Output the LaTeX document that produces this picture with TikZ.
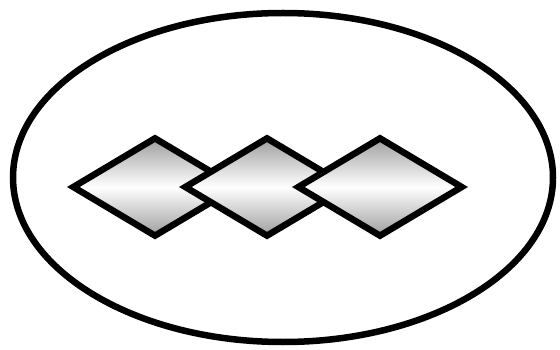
\documentclass[tikz,border=0pt]{standalone}
\usepackage{xcolor}
\usepackage{tikz}
\usetikzlibrary{shapes.geometric}

\tikzset{gem/.style={diamond, draw, line width=6.5pt, inner sep=0pt,
    minimum width=166pt, minimum height=100pt,
    top color=black!38, bottom color=black!38, middle color=white}}

\begin{document}
\begin{tikzpicture}[x=1pt,y=-1pt]
  \useasboundingbox (0,0) rectangle (560,350);
  \draw[line width=6.5pt] (283,177.5) ellipse [x radius=270pt, y radius=164.5pt];
  \node[gem] (gemA) at (155,187) {};
  \node[gem] (gemB) at (267,187) {};
  \node[gem] (gemC) at (380,187) {};
\end{tikzpicture}
\end{document}
